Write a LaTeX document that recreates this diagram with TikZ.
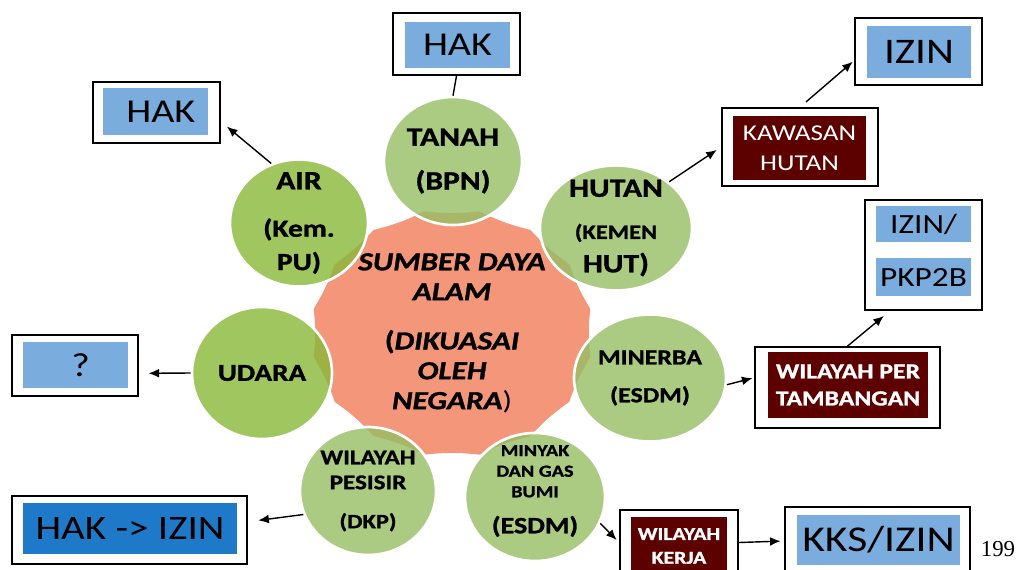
\documentclass[tikz,border=0pt]{standalone}
\usepackage{fontspec}
\setmainfont[FakeStretch=1.2, BoldFeatures={FakeBold=1.2}, BoldItalicFeatures={FakeBold=1.2}]{Carlito}
\newfontfamily\numfont{Liberation Serif}
\usetikzlibrary{shapes.geometric, arrows.meta, positioning}
\definecolor{grnA}{RGB}{136,184,55}
\definecolor{grnB}{RGB}{150,190,100}
\definecolor{salmon}{RGB}{244,150,122}
\definecolor{lblue}{RGB}{122,172,222}
\definecolor{dblue}{RGB}{30,122,200}
\definecolor{dred}{RGB}{92,0,0}
\newcommand{\fsz}[2]{\fontsize{#1}{#2}\selectfont}
\tikzset{
  res/.style={ellipse, draw=white, line width=1.5pt, fill opacity=0.8, inner sep=0pt},
  resA/.style={res, fill=grnA},
  resB/.style={res, fill=grnB},
  reslbl/.style={align=center, inner sep=0pt},
  outbox/.style={rectangle, draw=black, line width=1pt, fill=white, inner sep=0pt},
  bluebox/.style={rectangle, fill=lblue, inner sep=0pt, align=center},
  redbox/.style={rectangle, fill=dred, text=white, inner sep=0pt, align=center},
  arr/.style={-{Latex[length=6pt,width=5pt]}, line width=0.8pt},
  sz/.style 2 args={minimum width=#1*0.02cm, minimum height=#2*0.02cm}
}
\begin{document}
\begin{tikzpicture}[x=0.02cm, y=-0.02cm]
  \useasboundingbox (0,0) rectangle (1018,569);
  \clip (0,0) rectangle (1018,569);

  % central shape
  \fill[salmon] ({452+141*cos(11.25)},{333+124*sin(11.25)})
    \foreach \a in {33.75,56.25,...,371.25} { to[bend right=6] ({452+141*cos(\a)},{333+124*sin(\a)}) } -- cycle;

  % resources
  \node[resB, sz={138}{128}] (tanah) at (453,161) {};
  \node[resA, sz={138}{127}] (air) at (299,223) {};
  \node[resB, sz={152}{125}] (hutan) at (616,228) {};
  \node[resA, sz={140}{132}] (udara) at (262,373) {};
  \node[resB, sz={152}{127}] (minerba) at (650,378) {};
  \node[resB, sz={136}{128}] (pesisir) at (368,491) {};
  \node[resB, sz={140}{128}] (migas) at (535,497) {};

  \node[reslbl, font=\bfseries\fsz{15}{19}] (tanahT) at (tanah) {TANAH\\[6pt](BPN)};
  \node[reslbl, font=\bfseries\fsz{14}{19}] (airT) at (air) {\fsz{15}{19}AIR\\[8pt]\fsz{14}{19}(Kem.\\PU)};
  \node[reslbl, font=\bfseries\fsz{15}{19}] (hutanT) at (hutan) {HUTAN\\[5pt]\fsz{11.6}{19}(KEMEN\\HUT)};
  \node[reslbl, font=\bfseries\fsz{13.8}{19}] (udaraT) at (udara) {UDARA};
  \node[reslbl, font=\bfseries\fsz{12.3}{16}] (minerbaT) at (minerba) {MINERBA\\[5.5pt](ESDM)};
  \node[reslbl, font=\bfseries\fsz{11.9}{14.2}] (pesisirT) at (pesisir) {WILAYAH\\PESISIR\\[8pt]\fsz{11.6}{14.2}(DKP)};
  \node[reslbl, font=\bfseries\fsz{9.6}{11.7}] (migasT) at (535,491) {MINYAK\\DAN GAS\\BUMI\\[8.8pt]\fsz{13.3}{11.7}(ESDM)};

  \node[reslbl, font=\bfseries\fsz{14.8}{17}] (sda) at (452,333)
    {\itshape SUMBER DAYA\\\itshape ALAM\\[11pt]\upshape(\itshape DIKUASAI\\\itshape OLEH\\\itshape NEGARA\/\upshape\mdseries)};

  % boxes
  \node[outbox, sz={127}{62}] (hakT) at (456.5,44) {};
  \node[bluebox, sz={105}{46}, font=\fsz{19}{24}] (hakTin) at (457.5,45) {HAK};
  \node[outbox, sz={127}{61}] (hakL) at (156.5,112.5) {};
  \node[bluebox, sz={105}{47}, font=\fsz{19}{24}] (hakLin) at (155.5,111.5) {\hspace*{6pt}HAK};
  \node[outbox, sz={127}{67}] (izinT) at (918.5,51.5) {};
  \node[bluebox, sz={104}{52}, font=\fsz{20.5}{24}] (izinTin) at (919,52) {IZIN};
  \node[outbox, sz={156}{78}] (kawasan) at (800,147) {};
  \node[redbox, sz={133}{64}, font=\fsz{12.9}{17}] (kawasanin) at (799.5,148) {KAWASAN\\HUTAN};
  \node[outbox, sz={117}{110}] (pkp) at (923.5,255) {};
  \node[bluebox, sz={95}{36}, font=\fsz{15.8}{19}] (pkpA) at (923.5,224) {IZIN/};
  \node[bluebox, sz={95}{38}, font=\fsz{15.8}{19}] (pkpB) at (923.5,277) {PKP2B};
  \node[outbox, sz={185}{81}] (tambang) at (847.5,387.5) {};
  \node[redbox, sz={160}{66}, font=\bfseries\fsz{12.2}{15.4}] (tambangin) at (848,385) {WILAYAH PER\\TAMBANGAN};
  \node[outbox, sz={126}{61}] (tanya) at (75,365.5) {};
  \node[bluebox, sz={105}{46}, font=\fsz{19}{24}] (tanyain) at (75.5,365) {\hspace*{6pt}?};
  \node[outbox, sz={235}{68}] (hakizin) at (129.5,530) {};
  \node[bluebox, fill=dblue, sz={214}{51}, font=\fsz{19.5}{24}] (hakizinin) at (130,528.5) {HAK -> IZIN};
  \node[outbox, sz={118}{65}] (kerja) at (679,542.5) {};
  \node[redbox, sz={96}{58}, font=\bfseries\fsz{10.3}{13.5}] (kerjain) at (679,546) {WILAYAH\\KERJA};
  \node[outbox, sz={185}{68}] (kks) at (877.5,541) {};
  \node[bluebox, sz={163}{50}, font=\fsz{20.7}{24}] (kksin) at (878.5,540) {KKS/IZIN};

  \node[font=\numfont\fsz{13}{15}] (pg) at (998,549) {199};

  % connectors
  \draw[line width=0.8pt] (tanah.north) -- (hakT.south);
  \draw[arr, shorten >=4.5pt] (air.115) -- (hakL.-8);
  \draw[arr, shorten >=3pt] (hutan.41) -- (kawasan.west);
  \draw[arr, shorten <=4.5pt, shorten >=1pt] (kawasan.north) -- (izinT.-172);
  \draw[arr, shorten >=5.5pt] (udara.west) -- (tanya.-7);
  \draw[arr, shorten >=1pt] (minerba.-5) -- (tambang.174);
  \draw[arr, shorten >=4.5pt] (tambang.north) -- (pkp.-121);
  \draw[arr, shorten >=6pt] (pesisir.200) -- (hakizin.4);
  \draw[arr, shorten >=2pt] (migas.-22) -- (kerja.west);
  \draw[arr, shorten >=2pt] (kerja.east) -- (kks.west);
\end{tikzpicture}
\end{document}
